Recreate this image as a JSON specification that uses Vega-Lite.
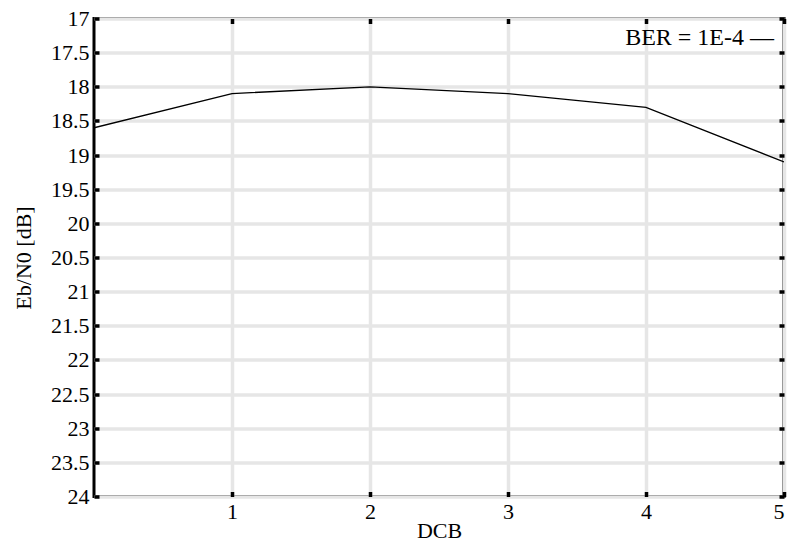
{
  "$schema": "https://vega.github.io/schema/vega-lite/v6.json",
  "width": 690,
  "height": 478,
  "autosize": {"type": "none"},
  "padding": {"left": 94, "top": 18.5, "right": 5, "bottom": 46.5},
  "background": "white",
  "config": {
    "font": "Liberation Serif",
    "view": {"stroke": "black", "strokeWidth": 3},
    "text": {"font": "Liberation Serif"},
    "style": {
      "guide-label": {"font": "Liberation Serif", "fontSize": 22, "fill": "black"},
      "guide-title": {"font": "Liberation Serif", "fontSize": 22, "fill": "black", "fontWeight": "normal"}
    },
    "axis": {
      "labelFont": "Liberation Serif",
      "titleFont": "Liberation Serif",
      "labelFontSize": 22,
      "titleFontSize": 22,
      "labelColor": "black",
      "titleColor": "black",
      "titleFontWeight": "normal",
      "domain": false,
      "grid": true,
      "gridColor": "#e6e6e6",
      "gridWidth": 3.5,
      "tickColor": "black",
      "tickWidth": 3.5,
      "tickSize": -5
    }
  },
  "data": {
    "values": [
      {"DCB": 0, "EbN0": 18.6},
      {"DCB": 1, "EbN0": 18.1},
      {"DCB": 2, "EbN0": 18.0},
      {"DCB": 3, "EbN0": 18.1},
      {"DCB": 4, "EbN0": 18.3},
      {"DCB": 5, "EbN0": 19.1}
    ]
  },
  "resolve": {"axis": {"x": "independent", "y": "independent"}},
  "layer": [
    {
      "mark": {"type": "line", "color": "black", "strokeWidth": 1.3, "clip": true},
      "encoding": {
        "x": {
          "field": "DCB",
          "type": "quantitative",
          "scale": {"domain": [0, 5], "nice": false, "zero": false},
          "axis": {"orient": "bottom", "title": "DCB", "values": [1, 2, 3, 4, 5], "labelFont": "Liberation Serif", "labelPadding": 10, "titlePadding": 15, "titleBaseline": "alphabetic"}
        },
        "y": {
          "field": "EbN0",
          "type": "quantitative",
          "scale": {"domain": [17, 24], "reverse": true, "nice": false, "zero": false},
          "axis": {"orient": "left", "title": "Eb/N0 [dB]", "values": [17, 17.5, 18, 18.5, 19, 19.5, 20, 20.5, 21, 21.5, 22, 22.5, 23, 23.5, 24], "format": "~f", "labelFont": "Liberation Serif", "labelPadding": 10, "titlePadding": 15}
        }
      }
    },
    {
      "mark": {"type": "line", "opacity": 0},
      "encoding": {
        "x": {
          "field": "DCB",
          "type": "quantitative",
          "axis": {"orient": "top", "title": null, "labels": false, "grid": false, "values": [1, 2, 3, 4, 5]}
        },
        "y": {
          "field": "EbN0",
          "type": "quantitative",
          "axis": {"orient": "right", "title": null, "labels": false, "grid": false, "values": [17, 17.5, 18, 18.5, 19, 19.5, 20, 20.5, 21, 21.5, 22, 22.5, 23, 23.5, 24]}
        }
      }
    },
    {
      "data": {"values": [{"label": "BER = 1E-4  \u2014", "xpos": 5, "ypos": 17.39}]},
      "mark": {"type": "text", "align": "right", "baseline": "alphabetic", "dx": -10, "fontSize": 24, "font": "Liberation Serif", "color": "black"},
      "encoding": {
        "x": {"field": "xpos", "type": "quantitative", "axis": null},
        "y": {"field": "ypos", "type": "quantitative", "axis": null},
        "text": {"field": "label"}
      }
    }
  ]
}
